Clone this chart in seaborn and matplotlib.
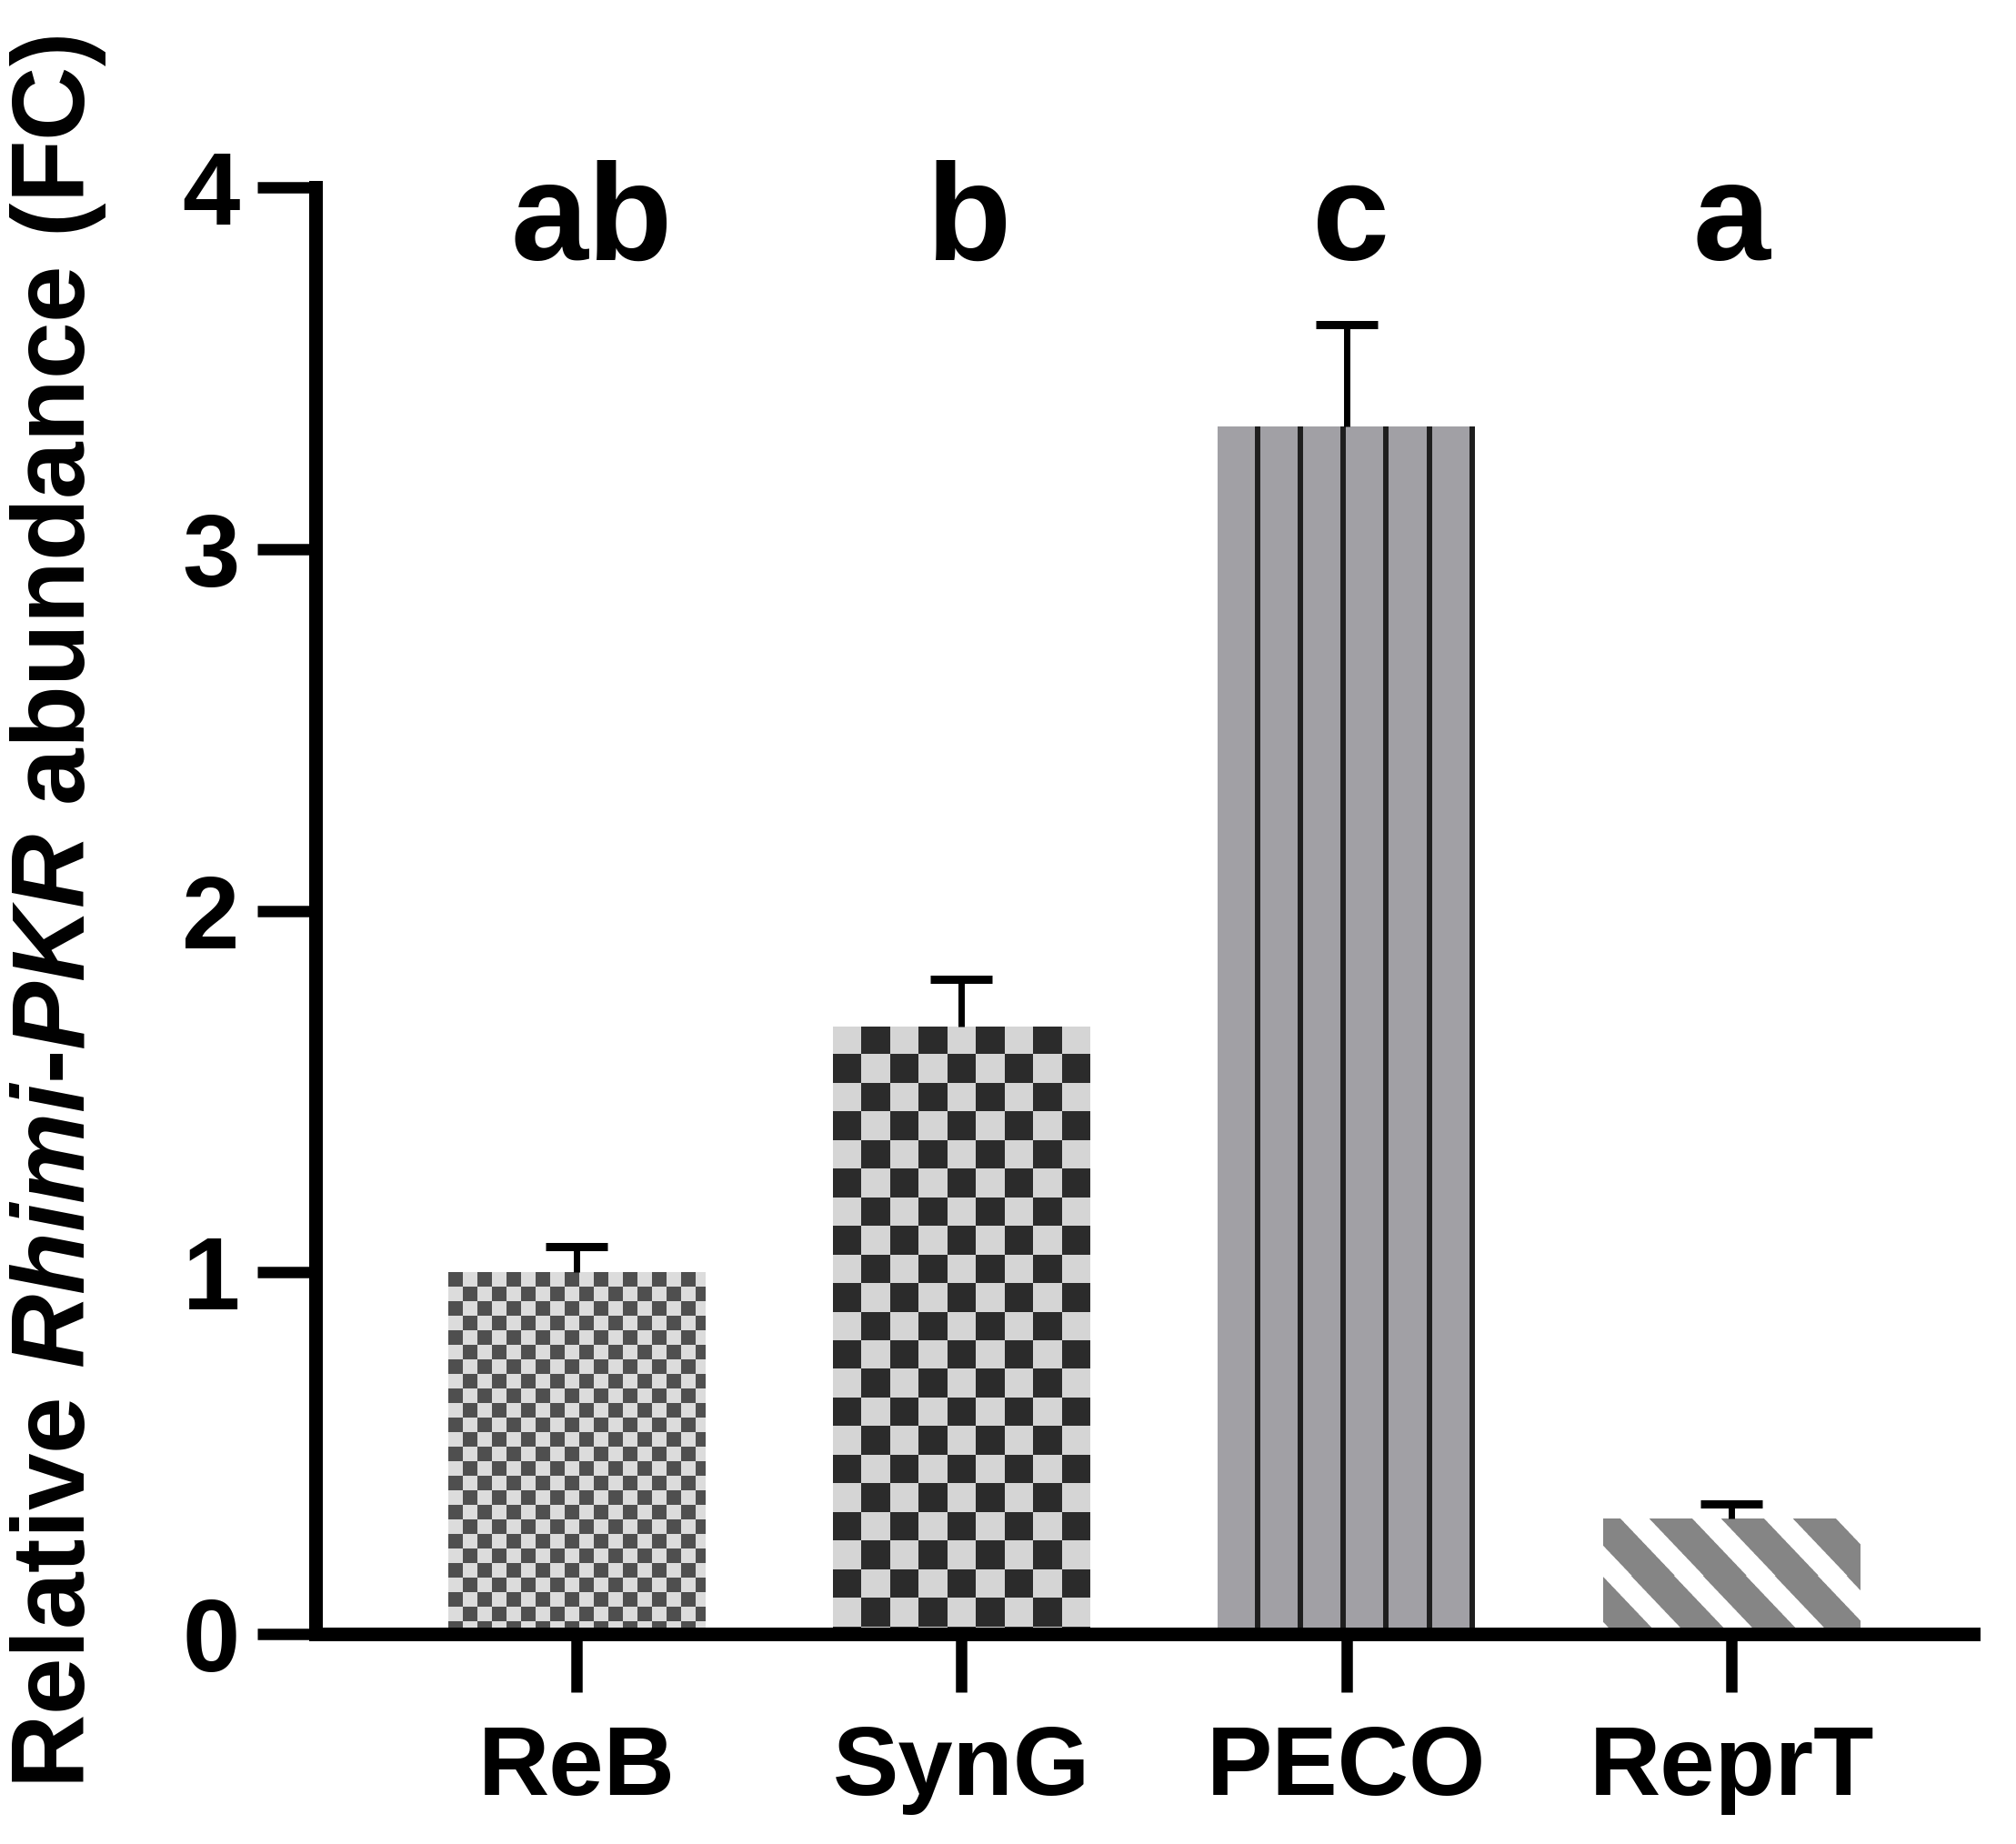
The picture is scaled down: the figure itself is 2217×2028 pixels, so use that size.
import numpy as np
import pandas as pd
import matplotlib
matplotlib.use("Agg")
import matplotlib.pyplot as plt
import seaborn as sns

# ---------------- data ----------------
categories = ["ReB", "SynG", "PECO", "ReprT"]
values = [1.00, 1.68, 3.34, 0.32]
errors = [0.07, 0.13, 0.28, 0.04]
letters = ["ab", "b", "c", "a"]
yticks = [0, 1, 2, 3, 4]

# ---------------- style ----------------
sns.set_theme(style="ticks")
plt.rcParams['font.family'] = ['Liberation Sans', 'DejaVu Sans']
plt.rcParams['font.weight'] = 'bold'
plt.rcParams['text.color'] = 'black'
plt.rcParams['xtick.color'] = 'black'
plt.rcParams['ytick.color'] = 'black'
plt.rcParams['xtick.labelcolor'] = 'black'
plt.rcParams['ytick.labelcolor'] = 'black'
plt.rcParams['mathtext.fontset'] = 'custom'
plt.rcParams['mathtext.rm'] = 'Liberation Sans:bold'
plt.rcParams['mathtext.it'] = 'Liberation Sans:italic:bold'
plt.rcParams['mathtext.bf'] = 'Liberation Sans:bold'
plt.rcParams['mathtext.bfit'] = 'Liberation Sans:italic:bold'

W, H, DPI = 2217, 2028, 100
fig = plt.figure(figsize=(W / DPI, H / DPI), dpi=DPI)
fig.patch.set_facecolor("white")
ax_l, ax_r, ax_t, ax_b = 347, 2170, 206, 1797
ax = fig.add_axes([ax_l / W, 1 - ax_b / H, (ax_r - ax_l) / W, (ax_b - ax_t) / H])
ax.set_facecolor("white")

df = pd.DataFrame({"group": categories, "fc": values})
base_colors = ["#dcdcdc", "#d5d5d5", "#a1a0a5", "#858585"]
sns.barplot(data=df, x="group", y="fc", hue="group", palette=base_colors,
            width=0.668, errorbar=None, legend=False, ax=ax,
            linewidth=0, edgecolor="none", saturation=1)

XLIM = (-0.678, 3.628)
YLIM = (0, 4)
px_x = (ax_r - ax_l) / (XLIM[1] - XLIM[0])
px_y = (ax_b - ax_t) / (YLIM[1] - YLIM[0])

patches = sorted(ax.patches, key=lambda p: p.get_x())


def hex2rgb(h):
    h = h.lstrip('#')
    return np.array([int(h[i:i + 2], 16) / 255 for i in (0, 2, 4)])


def add_checker(p, cell_px, dark, light, start_dark):
    x0, w, h = p.get_x(), p.get_width(), p.get_height()
    cdx, cdy = cell_px / px_x, cell_px / px_y
    nc = int(np.ceil(w / cdx))
    nr = int(np.ceil(h / cdy))
    i, j = np.indices((nr, nc))
    mask = ((i + j) % 2 == 0) if start_dark else ((i + j) % 2 == 1)
    img = np.where(mask[..., None], hex2rgb(dark), hex2rgb(light))
    im = ax.imshow(img, extent=[x0, x0 + nc * cdx, h - nr * cdy, h], origin='upper',
                   interpolation='nearest', aspect='auto', zorder=p.get_zorder() + 0.1)
    im.set_clip_path(p)


def add_stripes(p, period_px, white_frac, slope, phase_px, gray, white):
    x0, w, h = p.get_x(), p.get_width(), p.get_height()
    nc = int(round(w * px_x))
    nr = int(round(h * px_y))
    ss = 4
    r, c = np.indices((nr * ss, nc * ss)) / ss
    s = (c - r / slope - phase_px) % period_px
    m = (s < period_px * white_frac).astype(float)
    m = m.reshape(nr, ss, nc, ss).mean(axis=(1, 3))
    img = m[..., None] * hex2rgb(white) + (1 - m[..., None]) * hex2rgb(gray)
    im = ax.imshow(img, extent=[x0, x0 + w, 0, h], origin='upper',
                   interpolation='nearest', aspect='auto', zorder=p.get_zorder() + 0.1)
    im.set_clip_path(p)


# ReB: fine checkerboard
add_checker(patches[0], 16.0, "#4f4f4f", "#dcdcdc", True)
# SynG: coarse checkerboard
add_checker(patches[1], patches[1].get_width() * px_x / 9, "#2b2b2b", "#d5d5d5", False)
# PECO: vertical lines
p = patches[2]
xs = [p.get_x() + k * p.get_width() / 6 - 3.5 / px_x for k in range(1, 7)]
ax.vlines(xs, 0, p.get_height(), colors="#1e1e1e", linewidth=4.3,
          zorder=p.get_zorder() + 0.1)
# ReprT: diagonal white stripes
add_stripes(patches[3], 79, 0.40, 1.05, 18, "#858585", "#ffffff")

# error bars (upper only)
xpos = np.arange(len(categories))
eb = ax.errorbar(xpos, values, yerr=[np.zeros(len(values)), errors], fmt='none',
                 ecolor='black', elinewidth=5, capsize=24.8, capthick=6.5, zorder=5)
for cl in eb[1]:
    if np.allclose(cl.get_ydata(), values):
        cl.set_visible(False)

# significance letters
letter_dx = [0.04, 0.02, 0.01, 0.0]
for i, t in enumerate(letters):
    ax.text(xpos[i] + letter_dx[i], 3.80, t, ha='center', va='baseline', fontsize=110,
            fontweight='bold', color='black', clip_on=False)

ax.set_xlim(*XLIM)
ax.set_ylim(*YLIM)
ax.set_yticks(yticks)
ax.set_yticklabels([str(v) for v in yticks])
ax.set_xlabel("")
ax.set_ylabel("")
for lab in ax.get_yticklabels():
    lab.set_fontsize(82)
    lab.set_fontweight('bold')
    lab.set_color('black')
for lab in ax.get_xticklabels():
    lab.set_fontsize(78)
    lab.set_fontweight('bold')
    lab.set_color('black')

sns.despine(ax=ax)
for s in ("left", "bottom"):
    ax.spines[s].set_linewidth(10.8)
    ax.spines[s].set_color("black")
    ax.spines[s].set_zorder(6)
ax.tick_params(axis='both', direction='out', length=46, width=9, color='black')
ax.tick_params(axis='y', pad=14)
ax.tick_params(axis='x', pad=25)

fig.text(64 / W, 1 - 1003 / H,
         r"Relative $\mathbfit{Rhimi}$-$\mathbfit{PKR}$ abundance (FC)",
         rotation=90, ha='center', va='center', fontsize=81, fontweight='bold',
         color='black')

fig.savefig("out.png", dpi=DPI, facecolor="white")
